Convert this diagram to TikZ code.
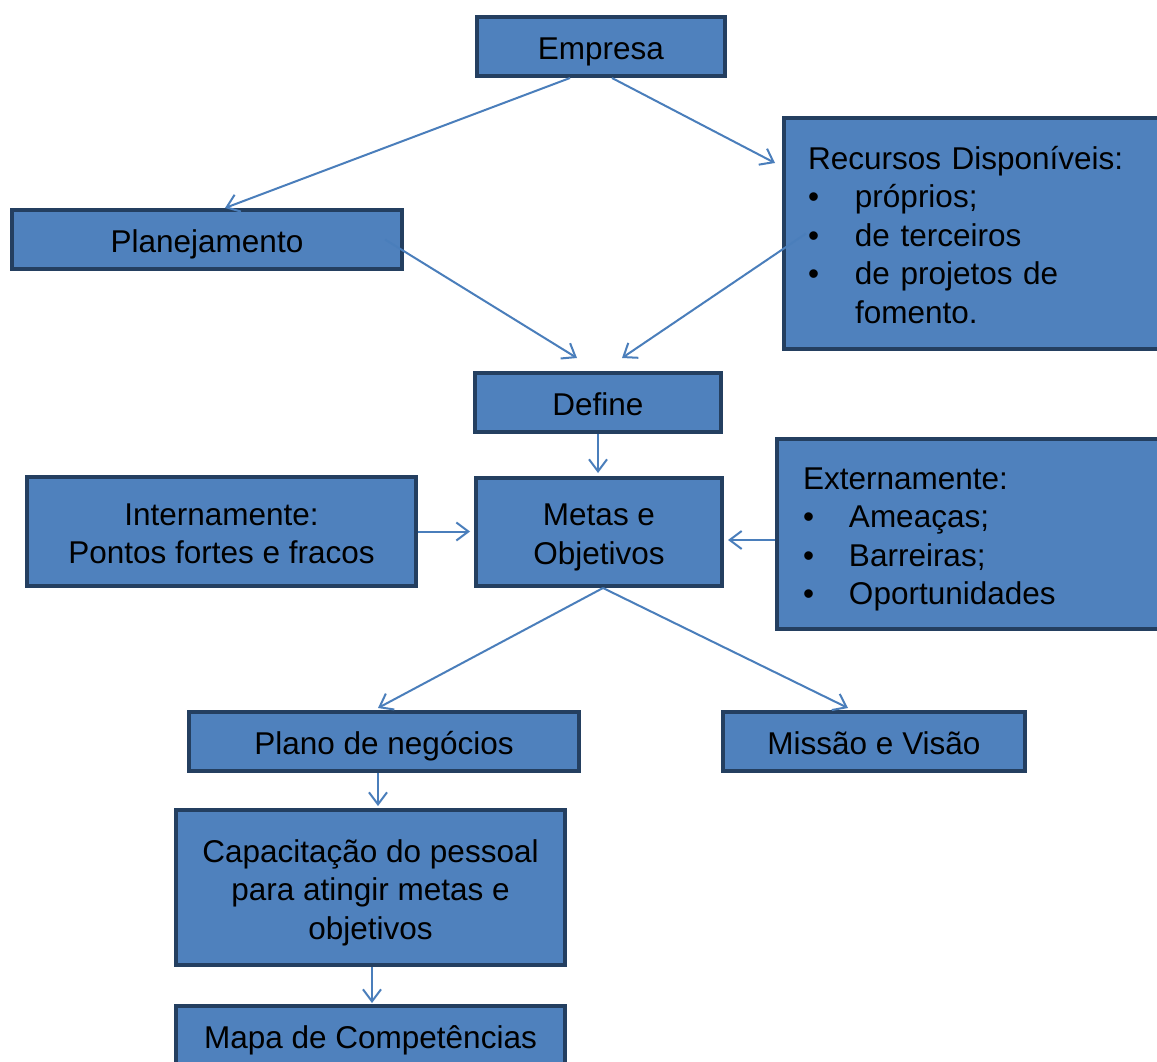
\documentclass[tikz,border=0pt]{standalone}
\usepackage{fontspec}
\setmainfont{Liberation Sans}
\usetikzlibrary{calc,arrows.meta}
\definecolor{boxfill}{HTML}{4F81BD}
\definecolor{boxline}{HTML}{243F60}
\definecolor{arrcol}{HTML}{4A7EBB}
\tikzset{
  box/.style={draw=boxline, fill=boxfill, line width=4pt, inner sep=0pt,
    font=\fontsize{31.5}{38.5}\selectfont, align=center, text=black},
  listbox/.style={box, align=left},
  arr/.style={draw=arrcol, line width=2pt, -{Straight Barb[length=12pt,width=18pt]}}
}
\newcommand{\bul}{\makebox[47pt][l]{•}}
\newcommand{\tp}{\rule{0pt}{34pt}}
\newcommand{\bt}{\rule[-8pt]{0pt}{8pt}}
\begin{document}
\begin{tikzpicture}[x=1pt,y=-1pt]
\useasboundingbox (0,0) rectangle (1157,1062);
\clip (0,0) rectangle (1157,1062);
\fill[white] (0,0) rectangle (1157,1062);
\node[box, minimum width=248pt, minimum height=59pt] (emp) at (601,46.5) {\tp Empresa\bt};
\node[box, minimum width=390pt, minimum height=59pt] (plan) at (207,239.5) {\tp Planejamento\bt};
\node[listbox, text width=331pt, inner xsep=24pt, minimum width=379pt, minimum height=231pt] (rec) at (973.5,233.5)
  {\tp Recursos Disponíveis:\\ \bul próprios;\\ \bul de terceiros\\ \bul de projetos de\\ \hspace*{47pt}fomento.\bt};
\node[box, minimum width=246pt, minimum height=59pt] (def) at (598,402.5) {\tp Define\bt};
\node[box, minimum width=389pt, minimum height=109pt] (intn) at (221.5,531.5) {\tp Internamente:\\Pontos fortes e fracos\bt};
\node[box, minimum width=246pt, minimum height=108pt] (metas) at (599,532) {\tp Metas e\\Objetivos\bt};
\node[listbox, text width=334pt, inner xsep=26pt, minimum width=386pt, minimum height=190pt] (ext) at (970,534)
  {\tp Externamente:\\ \makebox[46pt][l]{•}Ameaças;\\ \makebox[46pt][l]{•}Barreiras;\\ \makebox[46pt][l]{•}Oportunidades\bt};
\node[box, minimum width=390pt, minimum height=59pt] (plano) at (384,741.5) {\tp Plano de negócios\bt};
\node[box, minimum width=302pt, minimum height=59pt] (missao) at (874,741.5) {\tp Missão e Visão\bt};
\node[box, minimum width=389pt, minimum height=155pt] (cap) at (370.5,887.5) {\tp Capacitação do pessoal\\para atingir metas e\\objetivos\bt};
\node[box, minimum width=389pt, minimum height=59pt] (mapa) at (370.5,1035.5) {\tp Mapa de Competências\bt};
\draw[arr] ($(emp.south)+(-31,0)$) -- ($(plan.north)+(18,0)$);
\draw[arr] ($(emp.south)+(11,0)$) -- ($(rec.west)+(-7,-70.5)$);
\draw[arr] ($(plan.east)+(-19,0)$) -- ($(def.north)+(-21,-13)$);
\draw[arr] ($(rec.west)+(24,0)$) -- ($(def.north)+(24,-13)$);
\draw[arr] (def.south) -- ($(def.south|-metas.north)+(0,-3)$);
\draw[arr] (intn.east) -- ($(intn.east-|metas.west)+(-4,0)$);
\draw[arr] ($(ext.west)+(0,6)$) -- ($(metas.east)+(4,8)$);
\draw[arr] ($(metas.south)+(4,0)$) -- ($(plano.north)+(-6,-2)$);
\draw[arr] ($(metas.south)+(4,0)$) -- ($(missao.north)+(-26,-2)$);
\draw[arr] ($(plano.south)+(-6,0)$) -- ($(cap.north)+(7.5,-2)$);
\draw[arr] ($(cap.south)+(1.5,0)$) -- ($(mapa.north)+(1.5,-1)$);
\end{tikzpicture}
\end{document}
